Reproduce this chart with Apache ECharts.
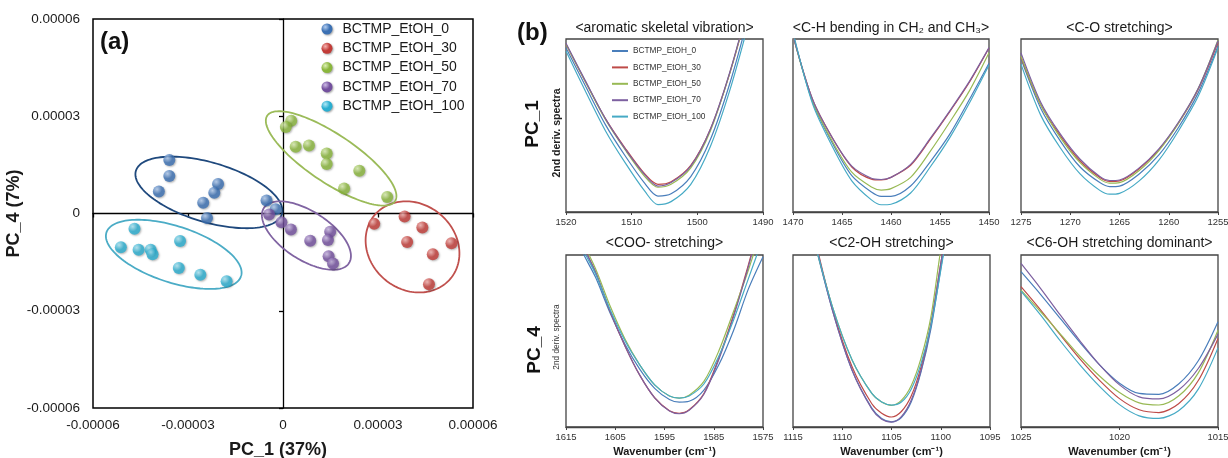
<!DOCTYPE html>
<html><head><meta charset="utf-8">
<script src="https://cdn.jsdelivr.net/npm/echarts@6/dist/echarts.min.js"></script>
<style>html,body{margin:0;padding:0;background:#fff}#c{width:1228px;height:458px}</style>
</head><body><div id="c"></div>
<script>
// ---------------- data ----------------
const sampleNames = ['BCTMP_EtOH_0', 'BCTMP_EtOH_30', 'BCTMP_EtOH_50', 'BCTMP_EtOH_70', 'BCTMP_EtOH_100'];

// (a) PCA scores [PC_1, PC_4]
const pcaEtOH0 = [[-3.59e-5, 1.65e-5], [-3.59e-5, 1.16e-5], [-3.92e-5, 0.68e-5], [-2.05e-5, 0.91e-5], [-2.17e-5, 0.64e-5], [-2.52e-5, 0.33e-5], [-2.40e-5, -0.14e-5], [-0.52e-5, 0.40e-5], [-0.23e-5, 0.13e-5]];
const pcaEtOH30 = [[2.88e-5, -0.32e-5], [3.84e-5, -0.09e-5], [4.40e-5, -0.43e-5], [3.92e-5, -0.88e-5], [4.73e-5, -1.26e-5], [5.32e-5, -0.92e-5], [4.61e-5, -2.18e-5]];
const pcaEtOH50 = [[0.26e-5, 2.86e-5], [0.09e-5, 2.67e-5], [0.40e-5, 2.06e-5], [0.82e-5, 2.10e-5], [1.38e-5, 1.85e-5], [1.38e-5, 1.53e-5], [2.41e-5, 1.32e-5], [1.93e-5, 0.77e-5], [3.29e-5, 0.51e-5]];
const pcaEtOH70 = [[-0.44e-5, -0.03e-5], [-0.05e-5, -0.27e-5], [0.25e-5, -0.49e-5], [0.86e-5, -0.84e-5], [1.49e-5, -0.56e-5], [1.42e-5, -0.82e-5], [1.44e-5, -1.32e-5], [1.58e-5, -1.54e-5]];
const pcaEtOH100 = [[-4.69e-5, -0.47e-5], [-5.12e-5, -1.04e-5], [-4.56e-5, -1.12e-5], [-4.18e-5, -1.12e-5], [-4.12e-5, -1.26e-5], [-3.25e-5, -0.85e-5], [-3.29e-5, -1.68e-5], [-2.61e-5, -1.89e-5], [-1.78e-5, -2.09e-5]];
// group ellipses: centre x, centre y, semi-major, semi-minor, tilt (deg)
const groupEllipses = [
  [-2.34e-5, 0.65e-5, 2.40e-5, 0.92e-5, -16],
  [4.09e-5, -1.03e-5, 1.55e-5, 1.33e-5, -35],
  [1.52e-5, 1.70e-5, 2.41e-5, 0.75e-5, -33],
  [0.74e-5, -0.68e-5, 1.59e-5, 0.75e-5, -32],
  [-3.45e-5, -1.26e-5, 2.23e-5, 0.87e-5, -17.5]
];

// (b) 2nd-derivative spectra (relative units, 0 = top of frame, -100 = bottom)
const aromX = [1520, 1517, 1514, 1511, 1508, 1506, 1504, 1501, 1498, 1495, 1492];
const aromEtOH0 = [-5, -27.5, -49.5, -67.5, -83.5, -90.8, -89.5, -79.5, -58, -25, 16];
const aromEtOH30 = [-3, -25, -46, -63, -78, -84, -82.5, -73, -52, -19, 22];
const aromEtOH50 = [-3, -25, -46.5, -64, -79.5, -85.7, -84, -74.5, -53, -19, 22];
const aromEtOH70 = [-2.5, -24.5, -46, -63.5, -78.5, -85, -83, -73.5, -52, -18.5, 23];
const aromEtOH100 = [-7, -30.5, -53, -71.5, -88, -95.7, -94, -84, -62, -29, 12];

const chX = [1470, 1468, 1466, 1464, 1462, 1461, 1460, 1458, 1456, 1454, 1452, 1450];
const chEtOH0 = [3, -36.5, -60, -79, -88.5, -91, -91, -85, -71, -55, -35, -14];
const chEtOH30 = [2, -35, -57, -74, -81, -81.5, -80, -73, -58, -42, -25, -5.2];
const chEtOH50 = [2, -36, -59, -77, -85.5, -87.3, -86.5, -80, -65, -48, -30, -8];
const chEtOH70 = [2, -35, -57, -73.5, -80.5, -81.2, -80, -72.5, -57.5, -41.5, -24.5, -5];
const chEtOH100 = [4, -37.5, -62, -82, -93, -95.8, -95.5, -89, -74, -57, -37, -15];

const coX = [1275, 1273, 1271, 1269, 1267, 1266, 1265, 1263, 1261, 1259, 1257, 1255];
const coEtOH0 = [-11.5, -40, -59, -74, -83, -85.3, -85, -78, -67, -51, -31, -4];
const coEtOH30 = [-10.5, -38, -56, -70.5, -80, -82.3, -82, -75, -64, -48.5, -29, -2];
const coEtOH50 = [-10, -38, -57, -71.5, -81, -83.3, -83, -76, -64.5, -48.5, -28.5, -0.5];
const coEtOH70 = [-8, -36.5, -55, -69.5, -79.5, -81.8, -81.5, -74.5, -63.5, -48, -28.5, -1];
const coEtOH100 = [-14.5, -44, -63, -78, -87.5, -89.7, -89.2, -82, -70, -53, -33, -5];

const cooX = [1615, 1612, 1609, 1606, 1603, 1600, 1597, 1594, 1592, 1590, 1587, 1584, 1581, 1578, 1575];
const cooEtOH0 = [30, 4, -13, -34, -52, -66.5, -77.5, -84, -85.5, -85, -78.5, -64, -44, -20, -1];
const cooEtOH30 = [30, 8, -10, -33, -53, -70, -83, -90.5, -92, -90, -80.5, -60, -35, -6, 25];
const cooEtOH50 = [30, 10, -8, -30, -49, -64, -75.5, -82, -83.2, -81.5, -73.5, -56, -33, -9, 18];
const cooEtOH70 = [30, 8, -10, -33, -53, -70, -83, -90.7, -92.3, -90.3, -81, -61, -36, -7, 25];
const cooEtOH100 = [30, 6, -11, -32, -50, -64, -75.5, -82, -83.2, -82, -75, -59, -38, -14, 10];

const c2X = [1113, 1111, 1109, 1107, 1106, 1105, 1104, 1103, 1102, 1101, 1100, 1099];
const c2EtOH0 = [12, -32, -67, -89, -95, -97, -94.5, -85.5, -68, -43, -8, 27];
const c2EtOH30 = [15, -31, -65, -86.5, -92, -94.2, -91, -82, -65, -40, -5, 30];
const c2EtOH50 = [12, -30, -61, -80.5, -85.5, -87.4, -84.5, -76, -60, -36, 3, 35];
const c2EtOH70 = [14, -32, -67, -89.5, -95.5, -97.2, -94, -84.5, -67, -41, -5, 30];
const c2EtOH100 = [12, -30, -61, -80.5, -85.5, -87.3, -85.5, -78, -63, -41, -9, 25];

const c6X = [1025, 1024, 1023, 1022, 1021, 1020, 1019, 1018, 1017, 1016, 1015];
const c6EtOH0 = [-9.7, -23, -37, -51, -64, -74.5, -80.5, -81, -75, -61.5, -38.8];
const c6EtOH30 = [-18.4, -32, -46.5, -60.5, -73, -83.5, -90, -91.6, -86.5, -73, -48.5];
const c6EtOH50 = [-20.4, -33, -46, -59, -70.5, -80, -86, -87.2, -82, -68.5, -43.7];
const c6EtOH70 = [-4.9, -19.5, -35, -50, -64, -75.5, -82.5, -83.7, -78.5, -66, -46];
const c6EtOH100 = [-21, -35, -50, -64, -76.5, -87, -93.5, -95, -90.5, -78, -54];

const panelTitles = ['<aromatic skeletal vibration>', '<C-H bending in CH\u2082 and CH\u2083>', '<C-O stretching>',
                     '<COO- stretching>', '<C2-OH stretching>', '<C6-OH stretching dominant>'];
const panelRanges = [[1490, 1520, 10], [1450, 1470, 5], [1255, 1275, 5], [1575, 1615, 10], [1095, 1115, 5], [1015, 1025, 5]];

// ---------------- styling / layout ----------------
const FONT = '"Liberation Sans", Arial, Helvetica, sans-serif';
const lineColors = ['#4a7ebb', '#be4b48', '#98b954', '#7d60a0', '#46aac5'];
const pointBase = ['#3b70b3', '#c23c38', '#8ab63c', '#73509e', '#2aaed0'];
const pointLight = ['#b3cdf0', '#f5b3b0', '#ddf0b5', '#cdbbe6', '#b0e8f6'];
const ellipseColors = ['#1f497d', '#c0504d', '#9bbb59', '#8064a2', '#4bacc6'];

const panelData = [
  [aromX, [aromEtOH0, aromEtOH30, aromEtOH50, aromEtOH70, aromEtOH100]],
  [chX, [chEtOH0, chEtOH30, chEtOH50, chEtOH70, chEtOH100]],
  [coX, [coEtOH0, coEtOH30, coEtOH50, coEtOH70, coEtOH100]],
  [cooX, [cooEtOH0, cooEtOH30, cooEtOH50, cooEtOH70, cooEtOH100]],
  [c2X, [c2EtOH0, c2EtOH30, c2EtOH50, c2EtOH70, c2EtOH100]],
  [c6X, [c6EtOH0, c6EtOH30, c6EtOH50, c6EtOH70, c6EtOH100]]
];
const pcaGroups = [pcaEtOH0, pcaEtOH30, pcaEtOH50, pcaEtOH70, pcaEtOH100];

const panelGrids = [
  {left: 566, top: 39, width: 197, height: 173},
  {left: 793, top: 39, width: 196, height: 173},
  {left: 1021, top: 39, width: 197, height: 173},
  {left: 566, top: 255, width: 197, height: 172},
  {left: 793, top: 255, width: 197, height: 172},
  {left: 1021, top: 255, width: 197, height: 172}
];

function sphere(i) {
  return {type: 'radial', x: 0.35, y: 0.32, r: 0.75,
    colorStops: [{offset: 0, color: pointLight[i]}, {offset: 0.55, color: pointBase[i]}, {offset: 1, color: pointBase[i]}]};
}
const fmtA = v => Math.abs(v) < 1e-12 ? '0' : v.toFixed(5);

const grids = [{left: 93, top: 19, width: 380, height: 389, show: true, borderColor: '#000', borderWidth: 1.5, backgroundColor: 'transparent', containLabel: false, outerBoundsMode: 'none'}];
panelGrids.forEach(g => grids.push(Object.assign({show: true, borderColor: '#444', borderWidth: 1.3, backgroundColor: 'transparent', containLabel: false, outerBoundsMode: 'none'}, g)));

const xAxes = [
  {gridIndex: 0, type: 'value', min: -6e-5, max: 6e-5, interval: 3e-5, position: 'bottom',
   axisLine: {show: false, onZero: false}, axisTick: {show: false}, splitLine: {show: false},
   axisLabel: {formatter: fmtA, fontSize: 13.5, fontFamily: FONT, color: '#1a1a1a', margin: 10},
   name: 'PC_1 (37%)', nameLocation: 'middle', nameGap: 33,
   nameTextStyle: {fontSize: 18, fontWeight: 'bold', fontFamily: FONT, color: '#1a1a1a', padding: [0, 10, 0, 0]}},
  {gridIndex: 0, type: 'value', min: -6e-5, max: 6e-5, interval: 3e-5, position: 'bottom',
   axisLine: {show: true, onZero: true, lineStyle: {color: '#000', width: 1.3}},
   axisTick: {show: true, length: 4, lineStyle: {color: '#000', width: 1.3}},
   axisLabel: {show: false}, splitLine: {show: false}}
];
const yAxes = [
  {gridIndex: 0, type: 'value', min: -6e-5, max: 6e-5, interval: 3e-5, position: 'left',
   axisLine: {show: false, onZero: false}, axisTick: {show: false}, splitLine: {show: false},
   axisLabel: {formatter: fmtA, fontSize: 13.5, fontFamily: FONT, color: '#1a1a1a', margin: 13},
   name: 'PC_4 (7%)', nameLocation: 'middle', nameGap: 56, nameRotate: 90,
   nameTextStyle: {fontSize: 18, fontWeight: 'bold', fontFamily: FONT, color: '#1a1a1a'}},
  {gridIndex: 0, type: 'value', min: -6e-5, max: 6e-5, interval: 3e-5, position: 'left',
   axisLine: {show: true, onZero: true, lineStyle: {color: '#000', width: 1.3}},
   axisTick: {show: true, length: 4, lineStyle: {color: '#000', width: 1.3}},
   axisLabel: {show: false}, splitLine: {show: false}}
];
panelRanges.forEach((r, p) => {
  const bottomRow = p >= 3;
  xAxes.push({gridIndex: p + 1, type: 'value', inverse: true, min: r[0], max: r[1], interval: r[2],
    axisLine: {show: true, onZero: false, lineStyle: {color: '#444', width: 1.3}},
    axisTick: {show: true, length: 3, lineStyle: {color: '#444'}},
    splitLine: {show: false},
    axisLabel: {formatter: v => String(Math.round(v)), fontSize: 9.5, fontFamily: FONT, color: '#333', margin: 5},
    name: bottomRow ? 'Wavenumber (cm\u207B\u00B9)' : '', nameLocation: 'middle', nameGap: 19,
    nameTextStyle: {fontSize: 11, fontWeight: 'bold', fontFamily: FONT, color: '#1a1a1a'}});
  yAxes.push({gridIndex: p + 1, type: 'value', min: -100, max: 0, show: false,
    axisLine: {onZero: false}, splitLine: {show: false}});
});

const series = [];
panelData.forEach((pd, p) => {
  const xs = pd[0];
  pd[1].forEach((ys, s) => {
    series.push({type: 'line', name: sampleNames[s], xAxisIndex: p + 2, yAxisIndex: p + 2,
      data: xs.map((x, i) => [x, ys[i]]), smooth: 0.3, symbol: 'none', showSymbol: false,
      clip: true, lineStyle: {color: lineColors[s], width: 1.2}, itemStyle: {color: lineColors[s]}, z: 2});
  });
});
series.push({type: 'custom', xAxisIndex: 0, yAxisIndex: 0, silent: true, z: 2,
  data: groupEllipses, encode: {x: 0, y: 1},
  renderItem: function (params, api) {
    const cx = api.value(0), cy = api.value(1), a = api.value(2), b = api.value(3);
    const th = api.value(4) * Math.PI / 180;
    const pts = [];
    for (let k = 0; k <= 144; k++) {
      const t = 2 * Math.PI * k / 144;
      pts.push(api.coord([cx + a * Math.cos(t) * Math.cos(th) - b * Math.sin(t) * Math.sin(th),
                          cy + a * Math.cos(t) * Math.sin(th) + b * Math.sin(t) * Math.cos(th)]));
    }
    return {type: 'polyline', shape: {points: pts}, style: {stroke: ellipseColors[params.dataIndex], lineWidth: 1.8, fill: null}};
  }});
pcaGroups.forEach((g, i) => {
  series.push({type: 'scatter', name: sampleNames[i], xAxisIndex: 0, yAxisIndex: 0, data: g,
    symbolSize: 12, z: 4,
    itemStyle: {color: sphere(i), shadowBlur: 2, shadowColor: 'rgba(0,0,0,0.35)', shadowOffsetX: 1, shadowOffsetY: 1}});
});

const graphics = [
  {type: 'text', x: 100, y: 42, style: {text: '(a)', fontSize: 24, fontWeight: 'bold', fontFamily: FONT, fill: '#111', align: 'left', verticalAlign: 'middle', textAlign: 'left', textVerticalAlign: 'middle'}},
  {type: 'text', x: 517, y: 33, style: {text: '(b)', fontSize: 24, fontWeight: 'bold', fontFamily: FONT, fill: '#111', align: 'left', verticalAlign: 'middle', textAlign: 'left', textVerticalAlign: 'middle'}},
  {type: 'text', x: 533, y: 124, rotation: Math.PI / 2, style: {text: 'PC_1', fontSize: 19, fontWeight: 'bold', fontFamily: FONT, fill: '#111', align: 'center', verticalAlign: 'middle', textAlign: 'center', textVerticalAlign: 'middle'}},
  {type: 'text', x: 535, y: 350, rotation: Math.PI / 2, style: {text: 'PC_4', fontSize: 19, fontWeight: 'bold', fontFamily: FONT, fill: '#111', align: 'center', verticalAlign: 'middle', textAlign: 'center', textVerticalAlign: 'middle'}},
  {type: 'text', x: 557, y: 133, rotation: Math.PI / 2, style: {text: '2nd deriv. spectra', fontSize: 10.5, fontWeight: 'bold', fontFamily: FONT, fill: '#222', align: 'center', verticalAlign: 'middle', textAlign: 'center', textVerticalAlign: 'middle'}},
  {type: 'text', x: 557, y: 337, rotation: Math.PI / 2, style: {text: '2nd deriv. spectra', fontSize: 8.3, fontFamily: FONT, fill: '#333', align: 'center', verticalAlign: 'middle', textAlign: 'center', textVerticalAlign: 'middle'}}
];
panelGrids.forEach((g, p) => {
  graphics.push({type: 'text', x: g.left + g.width / 2, y: p < 3 ? 28 : 243,
    style: {text: panelTitles[p], fontSize: 14, fontFamily: FONT, fill: '#1a1a1a', align: 'center', verticalAlign: 'middle', textAlign: 'center', textVerticalAlign: 'middle'}});
});

const option = {
  animation: false,
  backgroundColor: '#fff',
  grid: grids,
  xAxis: xAxes,
  yAxis: yAxes,
  legend: [
    {orient: 'vertical', left: 321.5, top: 22, padding: 0, itemWidth: 21, itemHeight: 11, itemGap: 5.3,
     selectedMode: false, textStyle: {fontSize: 14, fontFamily: FONT, color: '#1a1a1a', lineHeight: 14},
     data: sampleNames.map((n, i) => ({name: n, icon: 'circle',
       itemStyle: {color: sphere(i), borderWidth: 0, shadowBlur: 2, shadowColor: 'rgba(0,0,0,0.35)', shadowOffsetX: 1, shadowOffsetY: 1}}))},
    {orient: 'vertical', left: 611, top: 46, padding: 0, itemWidth: 16, itemHeight: 10, itemGap: 6.4,
     selectedMode: false, textStyle: {fontSize: 8.3, fontFamily: FONT, color: '#333', lineHeight: 10},
     itemStyle: {opacity: 0},
     data: sampleNames}
  ],
  graphic: graphics,
  series: series
};
const chart = echarts.init(document.getElementById('c'), null, {renderer: 'canvas'});
chart.setOption(option);
</script></body></html>
